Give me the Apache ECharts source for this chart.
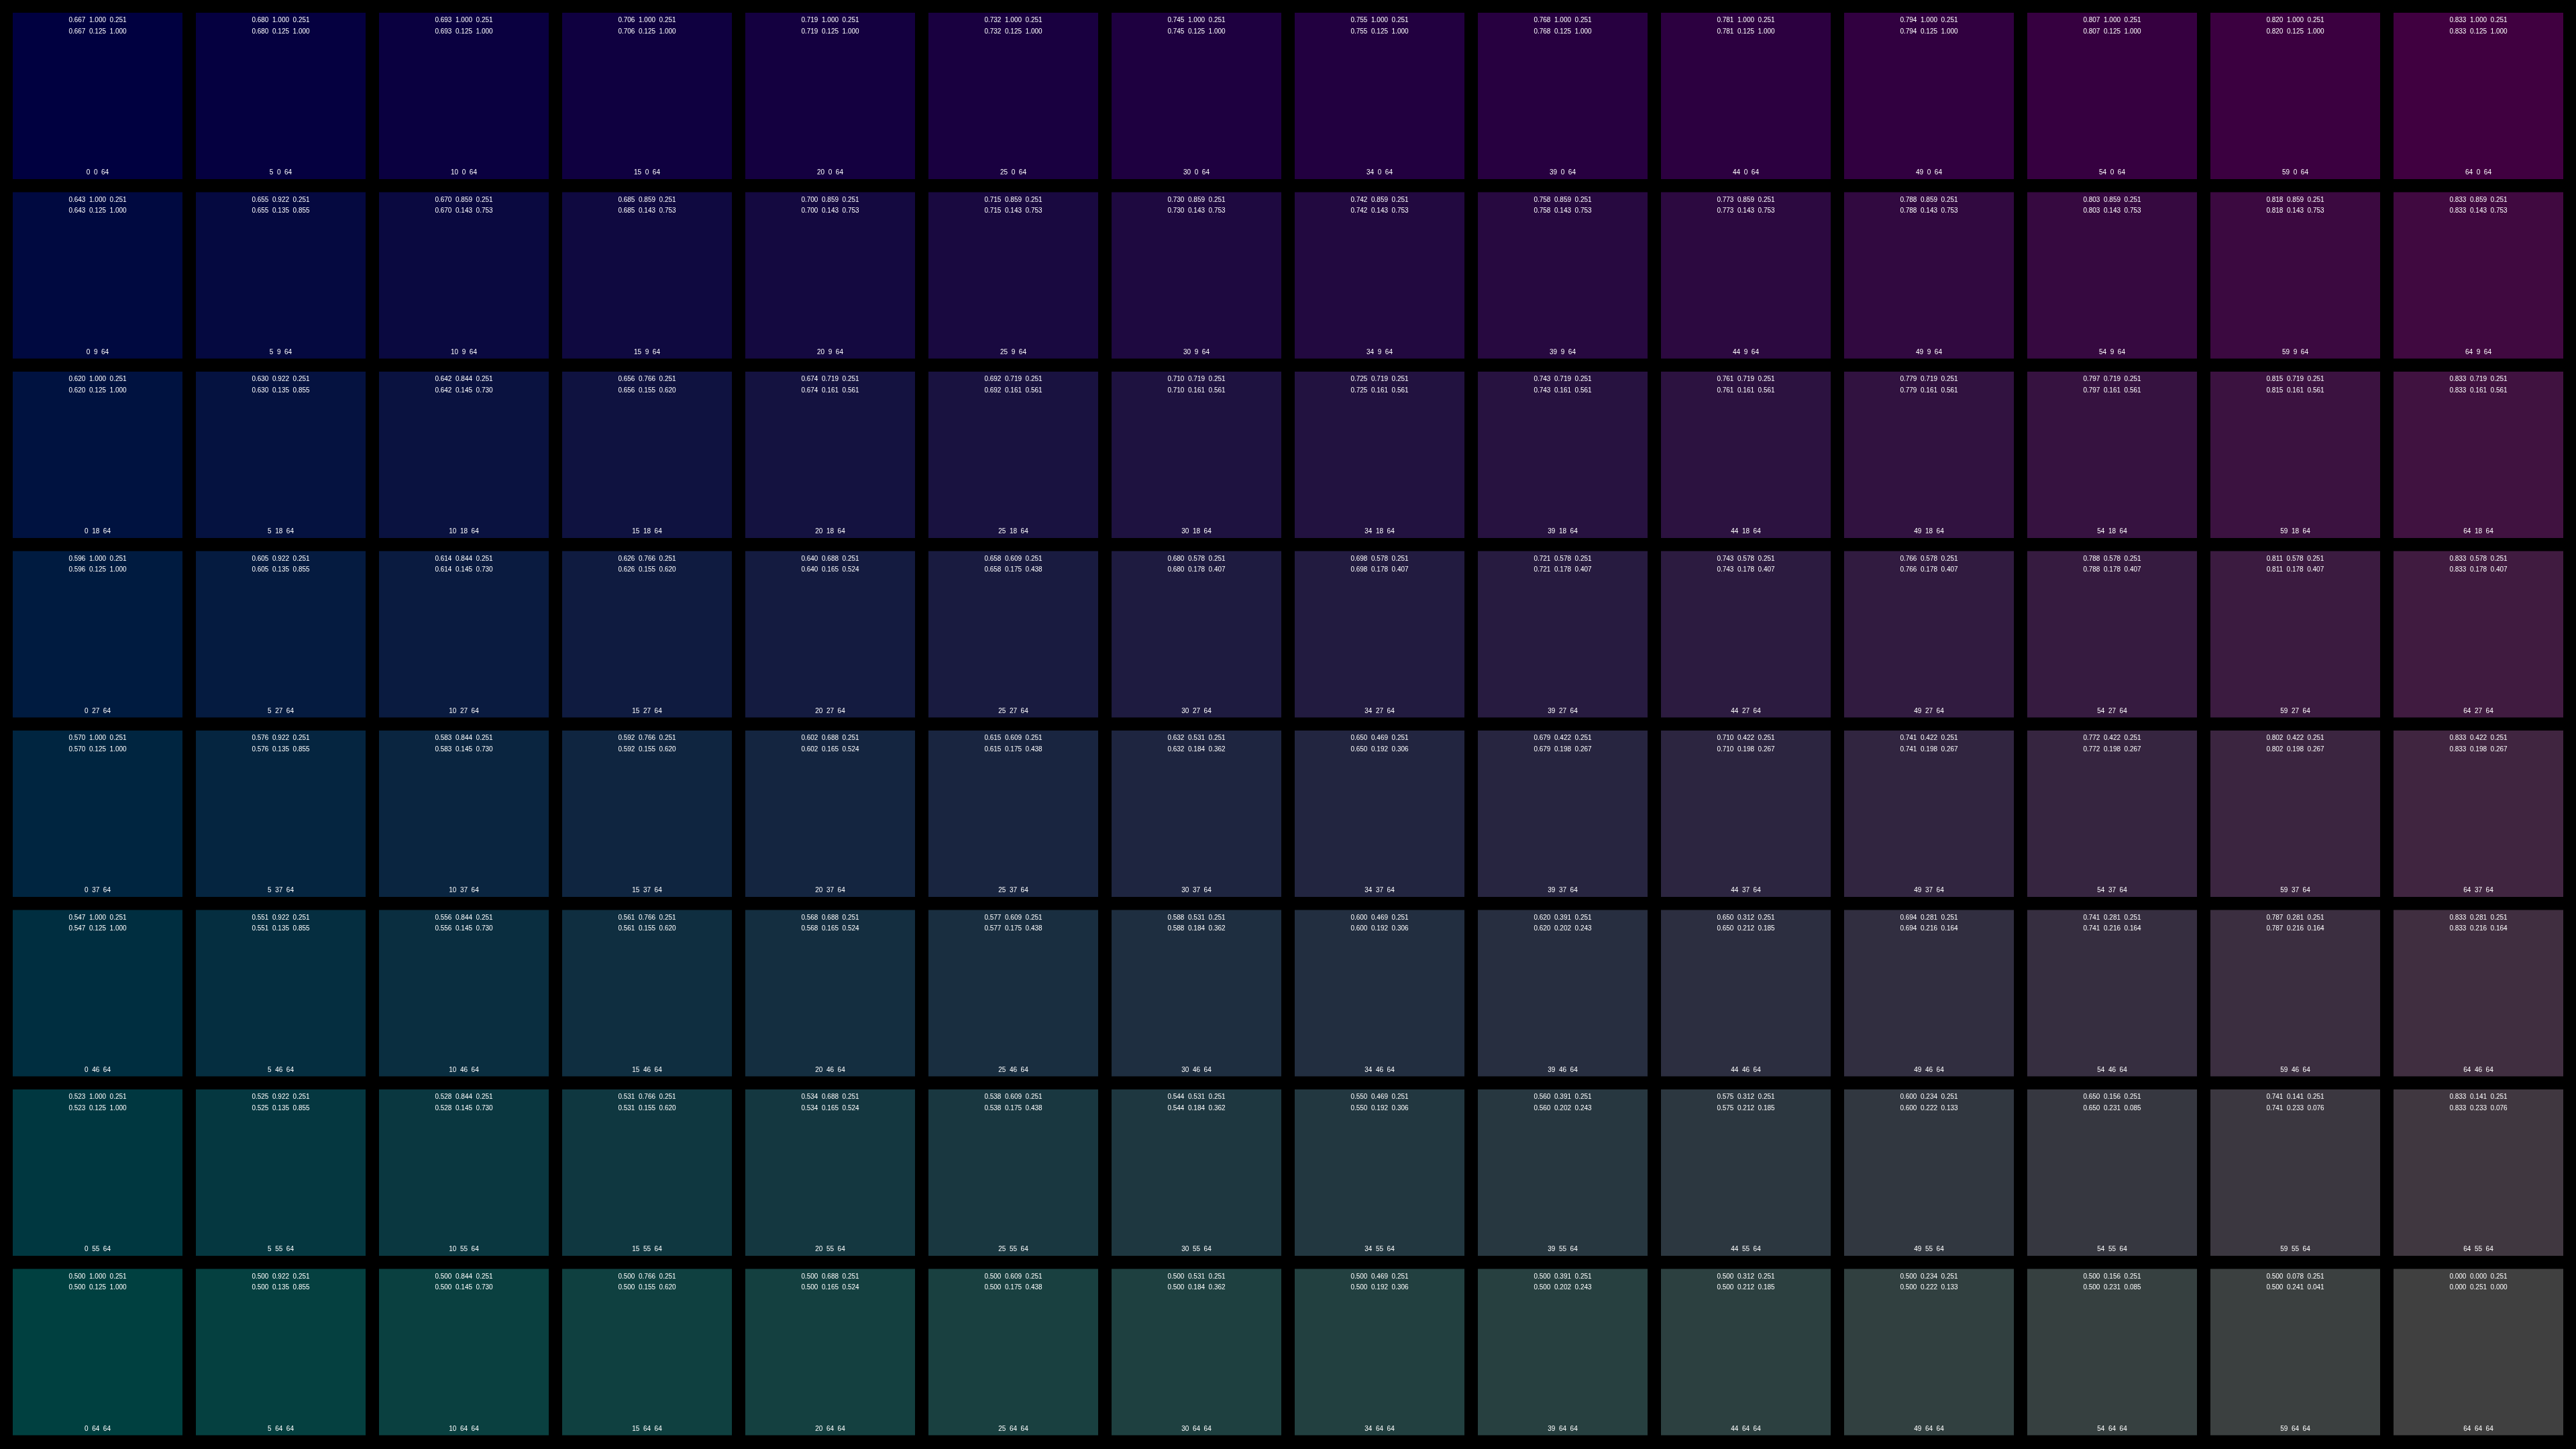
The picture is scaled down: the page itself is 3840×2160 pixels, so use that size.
<!DOCTYPE html>
<html>
<head>
<meta charset="utf-8">
<title>RGB swatches</title>
<script src="https://cdn.jsdelivr.net/npm/echarts@6/dist/echarts.min.js"></script>
<style>
  html, body { margin: 0; padding: 0; background: #000; }
  #chart { width: 3840px; height: 2160px; }
</style>
</head>
<body>
<div id="chart"></div>
<script>
// Red level of each column (left to right)
const redLevels = [0, 5, 10, 15, 20, 25, 30, 34, 39, 44, 49, 54, 59, 64];
// Green level of each row (top to bottom)
const greenLevels = [0, 9, 18, 27, 37, 46, 55, 64];
// Blue level, constant for every swatch
const blueLevel = 64;

// Python-style "%.3f" (exact decimal rounding, ties to even)
function fmt3(x) {
  const s = x.toFixed(20);
  const fp = s.split('.')[1];
  if (fp[3] === '5' && /^0*$/.test(fp.slice(4))) {
    let n = Math.floor(x * 1000);
    if (n % 2 !== 0) n += 1;
    return (n / 1000).toFixed(3);
  }
  return x.toFixed(3);
}
function pymod1(h) { return ((h % 1) + 1) % 1; }
function hueOf(r, g, b, maxc, rangec) {
  const rc = (maxc - r) / rangec, gc = (maxc - g) / rangec, bc = (maxc - b) / rangec;
  let h;
  if (r === maxc) h = bc - gc;
  else if (g === maxc) h = 2.0 + rc - bc;
  else h = 4.0 + gc - rc;
  return pymod1(h / 6.0);
}
function rgbToHsv(r, g, b) {
  const maxc = Math.max(r, g, b), minc = Math.min(r, g, b);
  const v = maxc;
  if (minc === maxc) return [0.0, 0.0, v];
  const s = (maxc - minc) / maxc;
  return [hueOf(r, g, b, maxc, maxc - minc), s, v];
}
function rgbToHls(r, g, b) {
  const maxc = Math.max(r, g, b), minc = Math.min(r, g, b);
  const sumc = maxc + minc, rangec = maxc - minc;
  const l = sumc / 2.0;
  if (minc === maxc) return [0.0, l, 0.0];
  const s = l <= 0.5 ? rangec / sumc : rangec / (2.0 - maxc - minc);
  return [hueOf(r, g, b, maxc, rangec), l, s];
}

const cells = [];
greenLevels.forEach(function (gv, j) {
  redLevels.forEach(function (rv, i) {
    cells.push([i, j, rv, gv, blueLevel]);
  });
});

const labelFont = '10px "Liberation Sans", Arial, sans-serif';

const chart = echarts.init(document.getElementById('chart'), null, { renderer: 'canvas' });
chart.setOption({
  backgroundColor: '#000000',
  animation: false,
  grid: { left: 9, right: 9, top: 9.25, bottom: 10.75 },
  xAxis: { type: 'category', data: redLevels.map(String), show: false, boundaryGap: true },
  yAxis: { type: 'category', data: greenLevels.map(String), show: false, inverse: true, boundaryGap: true },
  series: [{
    type: 'custom',
    data: cells,
    silent: true,
    renderItem: function (params, api) {
      const c = api.coord([api.value(0), api.value(1)]);
      const sz = api.size([1, 1]);
      const w = sz[0] - 20, h = sz[1] - 19.5;
      const x0 = c[0] - w / 2, y0 = c[1] - h / 2;
      const R = api.value(2), G = api.value(3), B = api.value(4);
      const hsv = rgbToHsv(R / 255, G / 255, B / 255);
      const hls = rgbToHls(R / 255, G / 255, B / 255);
      const line1 = hsv.map(fmt3).join('  ');
      const line2 = hls.map(fmt3).join('  ');
      const line3 = R + '  ' + G + '  ' + B;
      function txt(t, y) {
        return {
          type: 'text',
          style: {
            x: c[0], y: y, text: t, fill: '#ffffff', font: labelFont,
            align: 'center', verticalAlign: 'middle',
            textAlign: 'center', textVerticalAlign: 'middle'
          }
        };
      }
      return {
        type: 'group',
        children: [
          { type: 'rect', shape: { x: x0, y: y0, width: w, height: h },
            style: { fill: 'rgb(' + R + ',' + G + ',' + B + ')' } },
          txt(line1, y0 + 11.3),
          txt(line2, y0 + 28),
          txt(line3, y0 + h - 9.5)
        ]
      };
    }
  }]
});
</script>
</body>
</html>
